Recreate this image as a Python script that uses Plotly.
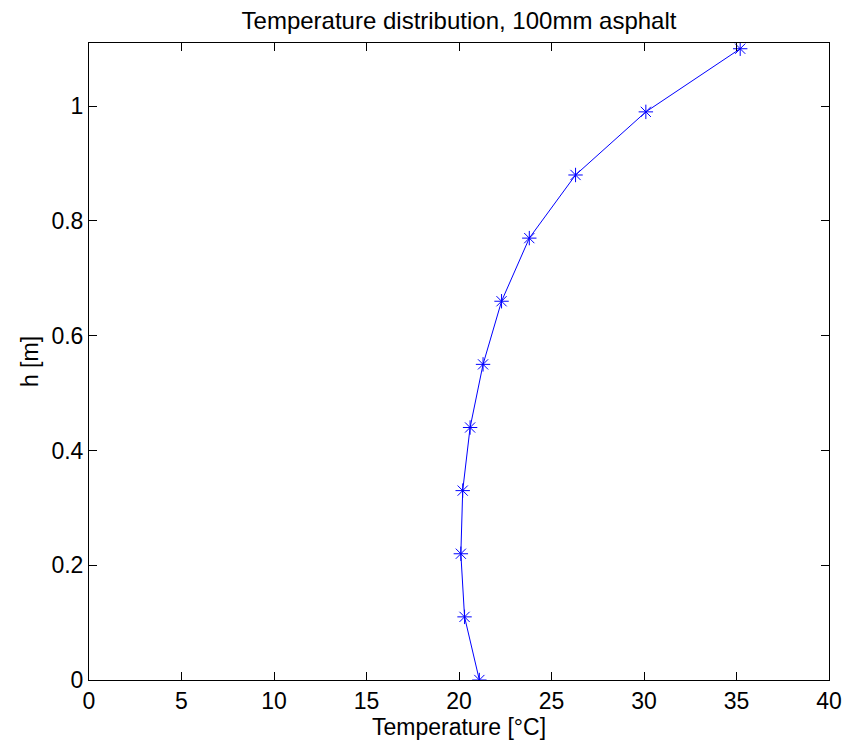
import plotly.graph_objects as go

temperature = [21.1, 20.3, 20.1, 20.2, 20.6, 21.3, 22.3, 23.8, 26.3, 30.1, 35.2]
height = [0.0, 0.11, 0.22, 0.33, 0.44, 0.55, 0.66, 0.77, 0.88, 0.99, 1.10]
x_ticks = [0, 5, 10, 15, 20, 25, 30, 35, 40]
y_ticks = [0, 0.2, 0.4, 0.6, 0.8, 1.0]
y_tick_labels = ["0", "0.2", "0.4", "0.6", "0.8", "1"]

fig = go.Figure()
fig.add_trace(go.Scatter(
    x=temperature, y=height, mode="lines+markers",
    line=dict(color="rgb(0,0,255)", width=1),
    marker=dict(symbol="asterisk-open", size=12, color="rgb(0,0,255)",
                line=dict(color="rgb(0,0,255)", width=1)),
    showlegend=False,
))

font = "Liberation Sans, Arial, sans-serif"
fs = 23
fig.update_layout(
    width=845, height=744,
    margin=dict(l=89, r=16, t=43, b=64),
    paper_bgcolor="white", plot_bgcolor="white",
    title=dict(text="Temperature distribution, 100mm asphalt", x=0.5, xanchor="center",
               xref="paper",
               y=1 - 21/744, yanchor="middle", font=dict(family=font, size=24, color="black")),
    font=dict(family=font, size=fs, color="black"),
)
fig.update_xaxes(
    range=[0, 40], tickvals=x_ticks, ticktext=[str(v) for v in x_ticks],
    automargin=False,
    showgrid=False, zeroline=False, showline=True, linecolor="black", linewidth=1,
    mirror="ticks", ticks="inside", ticklen=8, tickcolor="black",
    tickfont=dict(family=font, size=fs, color="black"),
    title=dict(text="Temperature [°C]", standoff=2, font=dict(family=font, size=fs, color="black")),
)
fig.update_yaxes(
    range=[0, 1.11], tickvals=y_ticks, ticktext=y_tick_labels,
    automargin=False,
    showgrid=False, zeroline=False, showline=True, linecolor="black", linewidth=1,
    mirror="ticks", ticks="inside", ticklen=8, tickcolor="black",
    tickfont=dict(family=font, size=fs, color="black"),
    title=dict(text="h [m]", standoff=6, font=dict(family=font, size=fs, color="black")),
)

fig.write_html("out.html")
